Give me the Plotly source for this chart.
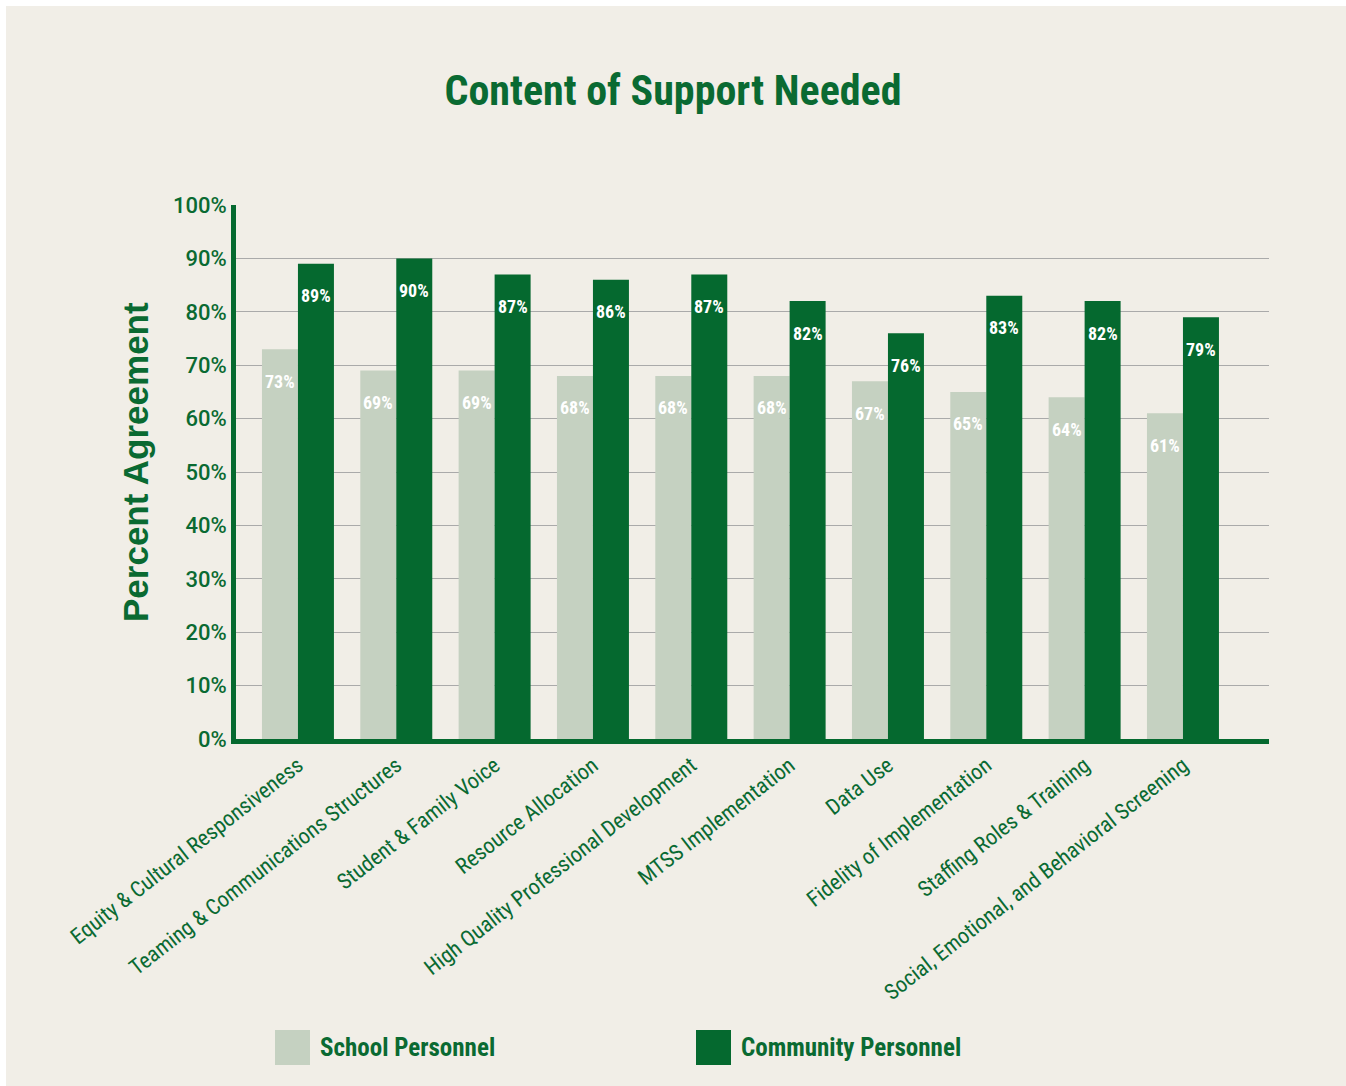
import plotly.graph_objects as go

categories = [
    "Equity & Cultural Responsiveness",
    "Teaming & Communications Structures",
    "Student & Family Voice",
    "Resource Allocation",
    "High Quality Professional Development",
    "MTSS Implementation",
    "Data Use",
    "Fidelity of Implementation",
    "Staffing Roles & Training",
    "Social, Emotional, and Behavioral Screening",
]
school = [73, 69, 69, 68, 68, 68, 67, 65, 64, 61]
community = [89, 90, 87, 86, 87, 82, 76, 83, 82, 79]
y_ticks = [0, 10, 20, 30, 40, 50, 60, 70, 80, 90, 100]
y_ticklabels = [f"{v}%" for v in y_ticks]

DARK = "#05692F"
LIGHT = "#C5D1C1"
BG = "#F1EEE7"
GREEN_TXT = "#0A6A32"
COND = "Roboto Condensed, Liberation Sans Narrow, Arial Narrow, sans-serif"
REG = "Roboto, Liberation Sans, Arial, sans-serif"
BOLD = "Liberation Sans, Arial, sans-serif"

W, H = 1346, 1086
L, R, T, B = 236, 1269, 205, 739
pw, ph = R - L, B - T

def px_x(px):
    return (px - L) / pw

def px_y(py):
    return (B - py) / ph

bw = 0.366
xs = list(range(len(categories)))

fig = go.Figure()
fig.add_trace(go.Bar(x=xs, y=school, width=bw, offset=-bw, marker_color=LIGHT,
                     marker_line_width=0, name="School Personnel", showlegend=False))
fig.add_trace(go.Bar(x=xs, y=community, width=bw, offset=0, marker_color=DARK,
                     marker_line_width=0, name="Community Personnel", showlegend=False))

annotations = []
for i, (s, c) in enumerate(zip(school, community)):
    annotations.append(dict(x=i - bw / 2, y=s, text=f"<b>{s}%</b>", showarrow=False,
                            yanchor="middle", yshift=-32,
                            font=dict(family=COND, size=18, color="white")))
    annotations.append(dict(x=i + bw / 2, y=c, text=f"<b>{c}%</b>", showarrow=False,
                            yanchor="middle", yshift=-32,
                            font=dict(family=COND, size=18, color="white")))

# y-axis title
annotations.append(dict(xref="paper", yref="paper", x=px_x(135), y=px_y(462),
                        xanchor="center", yanchor="middle", showarrow=False, textangle=-90,
                        text="<b>Percent Agreement</b>",
                        font=dict(family=BOLD, size=35, color=GREEN_TXT)))

# legend (custom, large swatches)
legend_items = [("School Personnel", LIGHT, 275), ("Community Personnel", DARK, 696)]
shapes = [
    dict(type="rect", xref="paper", yref="paper", x0=px_x(6), x1=px_x(1350),
         y0=px_y(1090), y1=px_y(6), fillcolor=BG, line_width=0, layer="below"),
]
for label, col, x0 in legend_items:
    shapes.append(dict(type="rect", xref="paper", yref="paper", x0=px_x(x0), x1=px_x(x0 + 35),
                       y0=px_y(1065), y1=px_y(1030), fillcolor=col, line_width=0))
    annotations.append(dict(xref="paper", yref="paper", x=px_x(x0 + 43), y=px_y(1047),
                            xanchor="left", yanchor="middle", showarrow=False,
                            text=f"<b>{label}</b>",
                            font=dict(family=COND, size=25, color=GREEN_TXT)))

fig.update_layout(
    width=W, height=H,
    margin=dict(l=L, r=W - R, t=T, b=H - B, pad=0),
    paper_bgcolor="white", plot_bgcolor=BG,
    barmode="overlay",
    title=dict(text="<b>Content of Support Needed</b>", x=0.5, xref="container",
               xanchor="center", y=1 - 90 / H, yanchor="middle",
               font=dict(family=COND, size=42, color=GREEN_TXT)),
    xaxis=dict(range=[-0.63, 9.875], tickmode="array", tickvals=xs, ticktext=categories,
               tickangle=-38, showgrid=False, zeroline=False,
               showline=True, linecolor=DARK, linewidth=5,
               ticks="", tickfont=dict(family=COND, size=22, color=GREEN_TXT)),
    yaxis=dict(range=[0, 100], tickmode="array", tickvals=y_ticks, ticktext=y_ticklabels,
               showgrid=True, gridcolor="#AAAAAA", gridwidth=1, zeroline=False,
               showline=True, linecolor=DARK, linewidth=5, ticks="", ticklen=0,
               tickfont=dict(family=REG, size=22, color=GREEN_TXT, weight=500)),
    shapes=shapes,
    annotations=annotations,
)

fig.write_html("out.html")
